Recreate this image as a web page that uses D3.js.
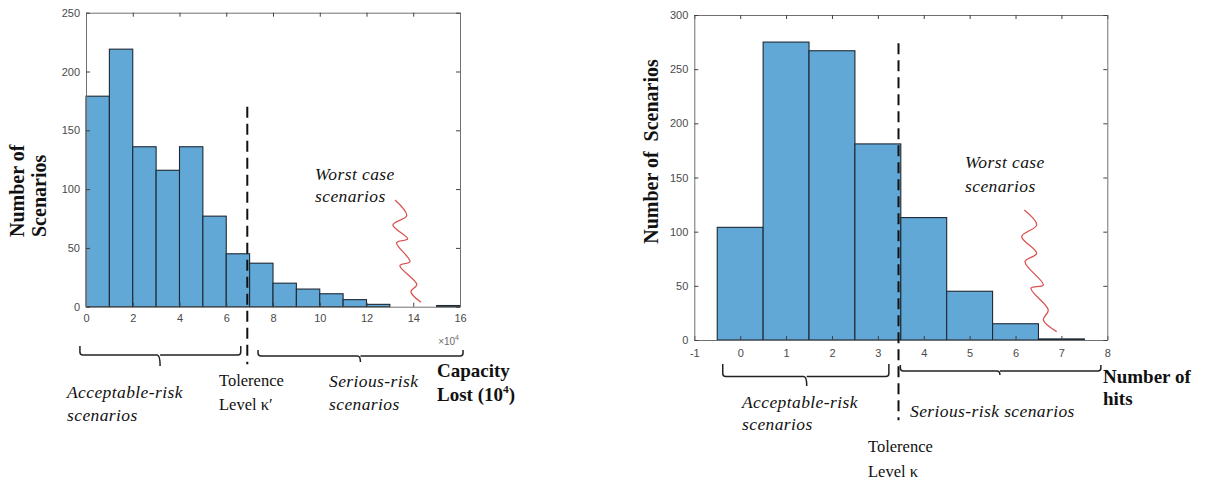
<!DOCTYPE html>
<html><head><meta charset="utf-8">
<script src="https://cdn.jsdelivr.net/npm/d3@7"></script>
<style>body{margin:0;background:#fff}svg{display:block}</style>
</head><body>
<svg id="c" width="1205" height="482"></svg>
<script>
// ---------- Left histogram: capacity lost (x 10^4) ----------
const leftBinStarts = [0,1,2,3,4,5,6,7,8,9,10,11,12,13,14,15];
const leftCounts    = [179,219,136,116,136,77,45,37,20,15,11,6,2,0,0,1];
const leftBinWidth  = 1;
const leftXTicks = [0,2,4,6,8,10,12,14,16];
const leftYTicks = [0,50,100,150,200,250];
const leftTolerance = 6.9;
const leftSquiggle = [[13.22,90.7],[13.72,77.4],[13.13,69.5],[13.76,57.6],[13.29,54.4],[13.86,38.3],[13.43,34.9],[14.15,19.0],[13.90,12.8],[14.33,3.7]];

// ---------- Right histogram: number of hits ----------
const rightHits   = [0,1,2,3,4,5,6,7];
const rightCounts = [104,275,267,181,113,45,15,1];
const rightBinWidth = 1;
const rightXTicks = [-1,0,1,2,3,4,5,6,7,8];
const rightYTicks = [0,50,100,150,200,250,300];
const rightTolerance = 3.45;
const rightSquiggle = [[6.191,120],[6.461,106.2],[6.135,95.4],[6.461,80.0],[6.206,72.3],[6.605,50.8],[6.337,47.7],[6.714,27.7],[6.605,18.5],[6.897,7.7]];

const svg = d3.select("#c");
const BAR_FILL = "#62a8d7", BAR_EDGE = "#1d2833";
const SERIF = "'Liberation Serif','Times New Roman',serif";
const SANS = "'Liberation Sans',Arial,sans-serif";

function bracePath(x1, x2, xm, yTop, yLine, yTip, r) {
  return `M${x1},${yTop} L${x1},${yLine-r} Q${x1},${yLine} ${x1+r},${yLine} L${xm-r},${yLine} Q${xm},${yLine} ${xm},${yTip} ` +
         `M${xm},${yLine} Q${xm},${yLine} ${xm+r},${yLine} L${x2-r},${yLine} Q${x2},${yLine} ${x2},${yLine-r} L${x2},${yTop}`;
}

function panel(cfg) {
  const x = d3.scaleLinear().domain(cfg.xDomain).range(cfg.xRange);
  const y = d3.scaleLinear().domain(cfg.yDomain).range(cfg.yRange);
  const g = svg.append("g");

  g.selectAll("rect.bar").data(cfg.starts.map((s,i)=>({s, c: cfg.counts[i]})))
    .enter().append("rect").attr("class","bar")
    .attr("x", d => x(d.s))
    .attr("width", d => x(d.s + cfg.binWidth) - x(d.s))
    .attr("y", d => y(d.c))
    .attr("height", d => y(0) - y(d.c))
    .attr("fill", BAR_FILL).attr("stroke", BAR_EDGE).attr("stroke-width", 1.1);

  const axStyle = sel => {
    sel.selectAll("path.domain").attr("stroke", "#707070").attr("stroke-width", 1);
    sel.selectAll(".tick line").attr("stroke", "#404040");
    sel.selectAll("text").attr("fill", "#4a4a4a").attr("font-family", SANS).attr("font-size", 11);
  };
  const fmt = d => String(d);
  const [b, t] = cfg.yRange, [l, r] = cfg.xRange;
  g.append("g").attr("transform", `translate(0,${b})`)
    .call(d3.axisBottom(x).tickValues(cfg.xTicks).tickFormat(fmt).tickSizeInner(-4).tickSizeOuter(0).tickPadding(cfg.xPad))
    .call(axStyle);
  g.append("g").attr("transform", `translate(0,${t})`)
    .call(d3.axisTop(x).tickValues(cfg.xTicks).tickSizeInner(-4).tickSizeOuter(0).tickFormat(""))
    .call(axStyle);
  g.append("g").attr("transform", `translate(${l},0)`)
    .call(d3.axisLeft(y).tickValues(cfg.yTicks).tickFormat(fmt).tickSizeInner(-4).tickSizeOuter(0).tickPadding(6))
    .call(axStyle);
  g.append("g").attr("transform", `translate(${r},0)`)
    .call(d3.axisRight(y).tickValues(cfg.yTicks).tickSizeInner(-4).tickSizeOuter(0).tickFormat(""))
    .call(axStyle);

  g.append("line")
    .attr("x1", x(cfg.tol)).attr("x2", x(cfg.tol))
    .attr("y1", y(cfg.tolTop)).attr("y2", y(cfg.tolBottom))
    .attr("stroke", "#111").attr("stroke-width", 2).attr("stroke-dasharray", "11,6");

  g.append("path").datum(cfg.squiggle)
    .attr("d", d3.line().x(d => x(d[0])).y(d => y(d[1])).curve(d3.curveCatmullRom.alpha(0.5)))
    .attr("fill", "none").attr("stroke", "#d9534f").attr("stroke-width", 1.3);

  cfg.braces.forEach(br => {
    g.append("path")
      .attr("d", bracePath(x(br.x1), x(br.x2), x(br.xm), br.yTop, br.yLine, br.yTip, 3))
      .attr("fill", "none").attr("stroke", "#222").attr("stroke-width", 1.5);
  });
  return {x, y, g};
}

function text(lines, xPos, y0, dy, opts) {
  const t = svg.append("text").attr("x", xPos).attr("y", y0)
    .attr("font-family", SERIF).attr("font-size", opts.size)
    .attr("font-style", opts.italic ? "italic" : "normal")
    .attr("letter-spacing", opts.ls || 0)
    .attr("font-weight", opts.bold ? "bold" : "normal").attr("fill", "#111");
  lines.forEach((ln, i) => {
    const ts = t.append("tspan").attr("x", xPos).attr("y", y0 + i*dy);
    if (Array.isArray(ln)) {
      ts.text(ln[0]);
      ts.append("tspan").attr("font-size", opts.size*0.6).attr("dy", -opts.size*0.4).text(ln[1]);
      ts.append("tspan").attr("dy", opts.size*0.4).text(ln[2]);
    } else ts.text(ln);
  });
  return t;
}

// ---- Left panel ----
panel({
  starts: leftBinStarts, counts: leftCounts, binWidth: leftBinWidth,
  xDomain: [0,16], xRange: [86,460], yDomain: [0,250], yRange: [306.7,12.7],
  xTicks: leftXTicks, yTicks: leftYTicks, xPad: 8,
  tol: leftTolerance, tolTop: 170, tolBottom: -49,
  squiggle: leftSquiggle,
  braces: [
    {x1: -0.26, x2: 6.62, xm: 3.17, yTop: 346, yLine: 355, yTip: 366},
    {x1: 7.36, x2: 16.13, xm: 11.74, yTop: 350, yLine: 356, yTip: 362}
  ]
});
svg.append("text").attr("x", 459).attr("y", 345).attr("text-anchor", "end")
  .attr("font-family", SANS).attr("font-size", 10).attr("fill", "#6a6a6a")
  .text("\u00d710").append("tspan").attr("font-size", 7).attr("dy", -5).text("4");

svg.append("text").attr("transform", "translate(24,237) rotate(-90)")
  .attr("font-family", SERIF).attr("font-weight", "bold").attr("font-size", 20).attr("fill", "#111")
  .text("Number of");
svg.append("text").attr("transform", "translate(46,237) rotate(-90)")
  .attr("font-family", SERIF).attr("font-weight", "bold").attr("font-size", 20).attr("fill", "#111")
  .text("Scenarios");

const IT = {size: 17.5, italic: true, ls: 0.4};
text(["Worst case", "scenarios"], 315, 180, 22, IT);
text(["Acceptable-risk", "scenarios"], 67, 398, 23, IT);
text(["Tolerence", "Level \u03ba\u2032"], 219, 386, 24, {size: 16.5});
text(["Serious-risk", "scenarios"], 329, 387, 23, IT);
text(["Capacity", ["Lost (10", "4", ")"]], 437, 377, 24, {size: 19, bold: true});

// ---- Right panel ----
panel({
  starts: rightHits.map(h => h - rightBinWidth/2), counts: rightCounts, binWidth: rightBinWidth,
  xDomain: [-1,8], xRange: [694.3,1107.3], yDomain: [0,300], yRange: [340,15],
  xTicks: rightXTicks, yTicks: rightYTicks, xPad: 9,
  tol: rightTolerance, tolTop: 274, tolBottom: -74,
  squiggle: rightSquiggle,
  braces: [
    {x1: -0.38, x2: 3.24, xm: 1.45, yTop: 364, yLine: 376.5, yTip: 386},
    {x1: 3.49, x2: 7.86, xm: 5.66, yTop: 365, yLine: 371, yTip: 375}
  ]
});

svg.append("text").attr("transform", "translate(658,151.5) rotate(-90)").attr("text-anchor", "middle")
  .attr("font-family", SERIF).attr("font-weight", "bold").attr("font-size", 20).attr("fill", "#111")
  .style("white-space", "pre")
  .text("Number of  Scenarios");

text(["Worst case", "scenarios"], 965, 168, 23.5, IT);
text(["Acceptable-risk", "scenarios"], 742, 408, 22, IT);
text(["Serious-risk scenarios"], 910, 417, 0, IT);
text(["Tolerence", "Level \u03ba"], 868, 452, 25, {size: 16.5});
text(["Number of", "hits"], 1103, 383, 22, {size: 19, bold: true});
</script>
</body></html>
